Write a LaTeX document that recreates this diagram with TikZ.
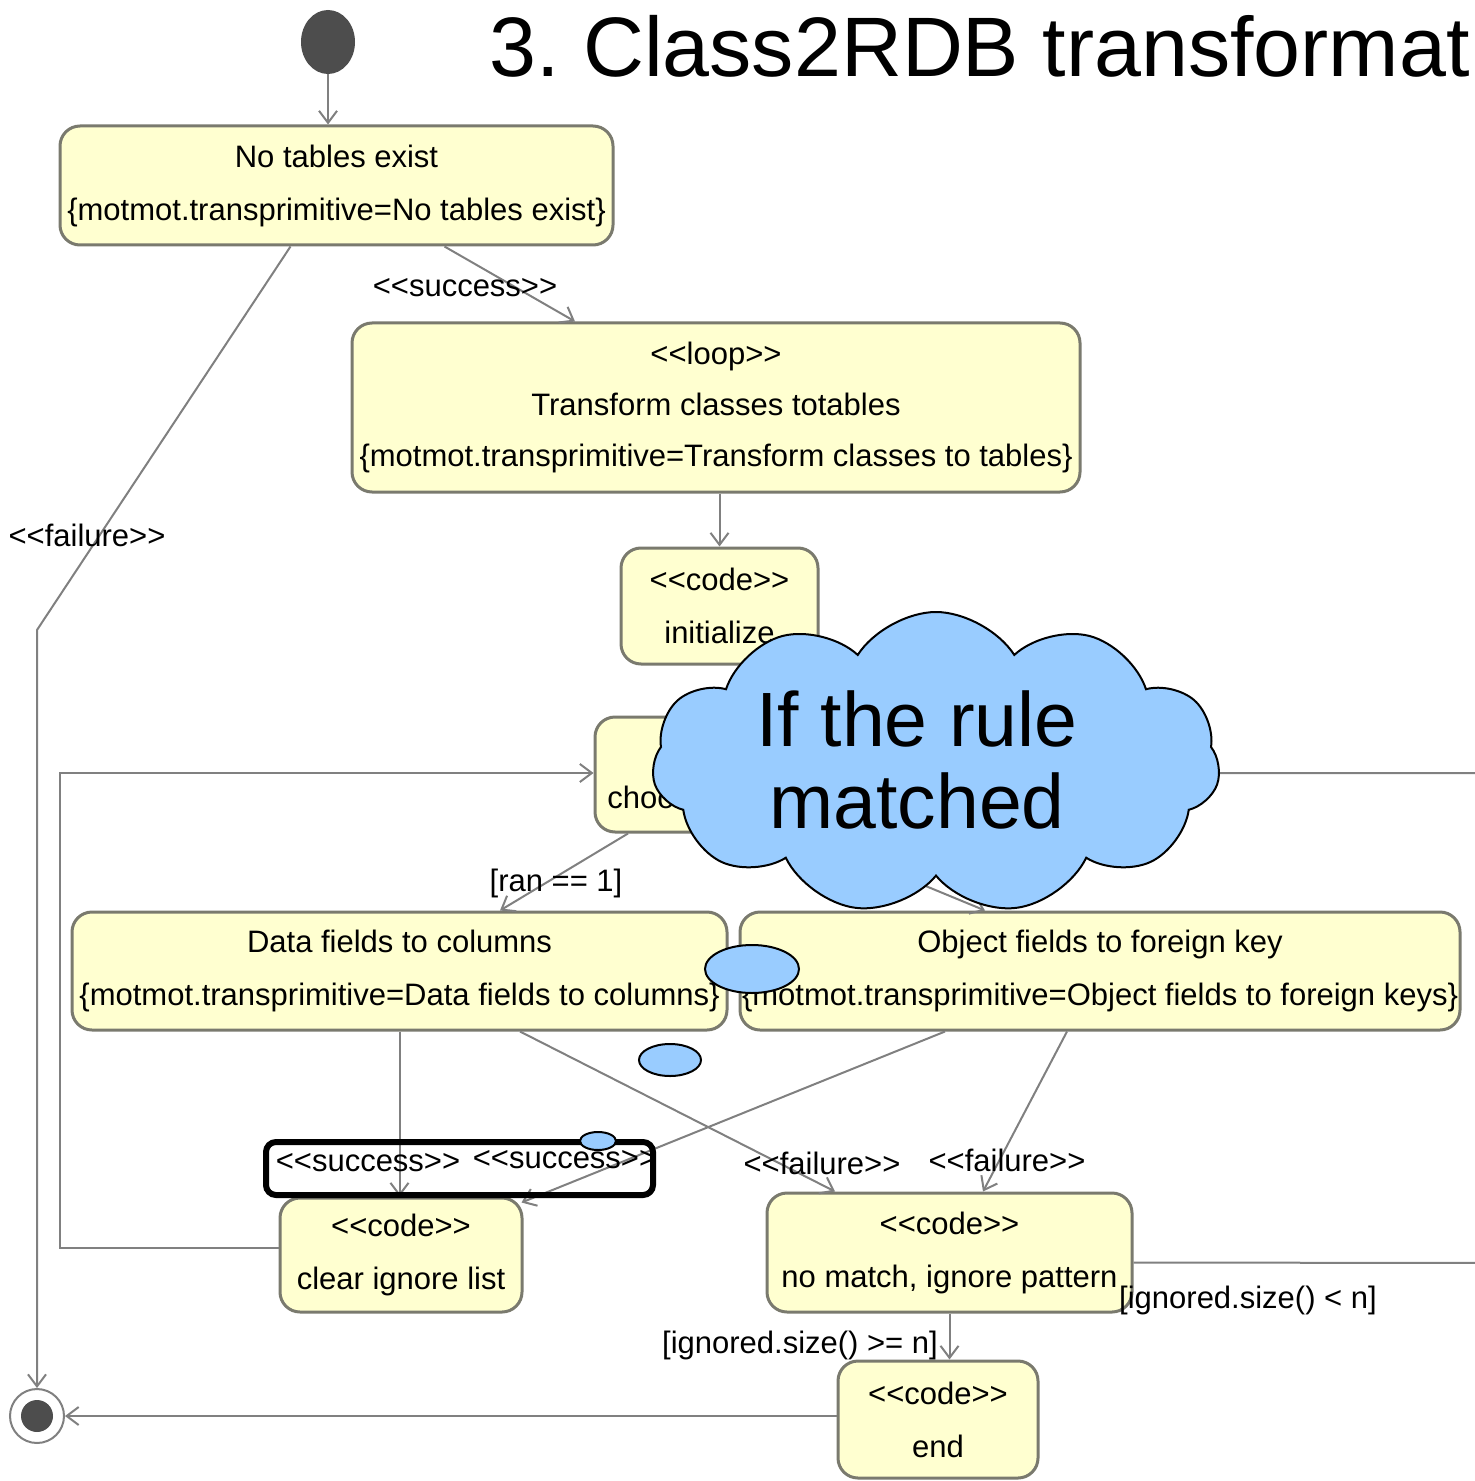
\documentclass[tikz,border=0pt]{standalone}
\usepackage{fontspec}
\setmainfont{Liberation Sans}
\usetikzlibrary{arrows.meta,shapes.symbols,shapes.geometric}
\definecolor{boxfill}{RGB}{255,255,208}
\definecolor{boxline}{RGB}{122,122,110}
\definecolor{edgecol}{RGB}{128,128,128}
\definecolor{blobfill}{RGB}{153,204,255}
\definecolor{dotcol}{RGB}{77,77,77}
\tikzset{
  actbox/.style={draw=boxline, line width=1.5pt, fill=boxfill, rounded corners=10pt,
    inner sep=0pt, align=center, font=\fontsize{15.5}{26.5}\selectfont},
  conn/.style={draw=edgecol, line width=1pt, -{Straight Barb[length=6pt,width=9pt]}},
  lbl/.style={inner sep=0pt, font=\fontsize{15.5}{18}\selectfont},
  blob/.style={ellipse, draw=black, line width=1pt, fill=blobfill, inner sep=0pt},
}
\frenchspacing
\begin{document}
\begin{tikzpicture}[x=0.5pt,y=-0.5pt]
\useasboundingbox (0,0) rectangle (1475,1481);

% title
\node[anchor=base west, inner sep=0pt, font=\fontsize{42.2}{44}\selectfont] (title) at (489,77) {3. Class2RDB transformat};

% start and final
\node[ellipse, fill=dotcol, minimum width=27pt, minimum height=32pt, inner sep=0pt] (start) at (328,42) {};
\node[circle, draw=edgecol, line width=1pt, fill=white, minimum size=27pt, inner sep=0pt] (fin) at (37,1416) {};
\node[circle, fill=dotcol, minimum size=16pt, inner sep=0pt] (findot) at (37,1416) {};

% activity boxes
\node[actbox, minimum width=276.5pt, minimum height=59.5pt] (A) at (336.5,185.5)
  {No tables exist\\{\char`\{}motmot.transprimitive=No tables exist{\char`\}}};
\node[actbox, minimum width=364pt, minimum height=84.5pt, font=\fontsize{15.5}{25.5}\selectfont] (B) at (716,407.5)
  {<{}<loop>{}>\\Transform classes totables\\{\char`\{}motmot.transprimitive=Transform classes to tables{\char`\}}};
\node[actbox, minimum width=98.5pt, minimum height=58pt] (C) at (719.5,606)
  {<{}<code>{}>\\initialize};
\node[actbox, minimum width=127.5pt, minimum height=57.5pt] (D) at (722.5,774.5) {};
\node[lbl, anchor=west] (Dtext) at (607,797) {choose};
\node[actbox, minimum width=327.5pt, minimum height=59pt] (E) at (399.5,971)
  {Data fields to columns\\{\char`\{}motmot.transprimitive=Data fields to columns{\char`\}}};
\node[actbox, minimum width=360pt, minimum height=59pt] (F) at (1100,971)
  {Object fields to foreign key\\{\char`\{}motmot.transprimitive=Object fields to foreign keys{\char`\}}};
\node[actbox, minimum width=121pt, minimum height=57pt] (G) at (401,1255)
  {<{}<code>{}>\\clear ignore list};
\node[actbox, minimum width=182.5pt, minimum height=59.5pt] (H) at (949.5,1252.5)
  {<{}<code>{}>\\no match, ignore pattern};
\node[actbox, minimum width=100pt, minimum height=58.5pt] (I) at (938,1419.5)
  {<{}<code>{}>\\end};

% connectors
\draw[conn] (start) -- (start |- A.north);
\draw[conn] ([xshift=54pt]A.south) -- ([xshift=-70.5pt]B.north);
\coordinate (fbend) at (37,630);
\draw[conn] ([xshift=-23pt]A.south) -- (fbend) -- (fin.north);
\draw[conn] (B.south -| C.north) -- (C.north);
\draw[conn] ([xshift=-47.25pt]D.south) -- ([xshift=50.25pt]E.north);
\draw[conn] ([xshift=38pt]D.south) -- ([xshift=-57.5pt]F.north);
\draw[conn] (E.south) -- (E.south |- G.north);
\draw[conn] ([xshift=-77.5pt]F.south) -- ([xshift=-1pt,yshift=-3pt]G.north east);
\draw[conn] ([xshift=60.25pt]E.south) -- ([xshift=-57.25pt]H.north);
\draw[conn] ([xshift=-16.5pt]F.south) -- ([xshift=16.75pt]H.north);
\draw[conn] (H.south) -- (H.south |- I.north);
\draw[conn] (fin.east -| I.west) -- (fin.east);
\coordinate (lb1) at (60,1248);
\coordinate (lb2) at (60,773);
\draw[conn] ([yshift=3.5pt]G.west) -- (lb1) -- (lb2) -- (lb2 -| D.west);
\coordinate (rb1) at (1490,1263);
\coordinate (rb2) at (1490,773);
\draw[conn] ([yshift=-5pt]H.east) -- (rb1) -- (rb2) -- (rb2 -| D.east);

% labels
\node[lbl] (l1) at (465,288) {<{}<success>{}>};
\node[lbl] (l2) at (87,535) {<{}<failure>{}>};
\node[lbl] (l3) at (556,883) {[ran == 1]};
\node[lbl] (l4) at (368,1163) {<{}<success>{}>};
\node[lbl] (l5) at (565,1160) {<{}<success>{}>};
\node[lbl] (l6) at (822,1163) {<{}<failure>{}>};
\node[lbl] (l7) at (1007,1160) {<{}<failure>{}>};
\node[lbl] (l8) at (800,1345) {[ignored.size() >= n]};
\node[lbl] (l9) at (1248,1300) {[ignored.size() < n]};

% overlay highlight
\draw[black, line width=3pt, rounded corners=5pt] (266,1142) rectangle (653,1195);

% blobs
\node[blob, minimum width=47pt, minimum height=24pt] (b1) at (752,969) {};
\node[blob, minimum width=31pt, minimum height=16pt] (b2) at (670,1060) {};
\node[blob, minimum width=18pt, minimum height=9pt] (b3) at (598,1141) {};

% cloud
\node[cloud, cloud puffs=11, cloud puff arc=115, aspect=1.9, draw=black, line width=1pt,
  fill=blobfill, minimum width=284pt, minimum height=151pt, inner sep=0pt] (cloud) at (936,763) {};
\node[inner sep=0pt, align=center, font=\fontsize{38.5}{41}\selectfont] (cloudtext) at (917,760) {If the rule\\matched};
\end{tikzpicture}
\end{document}
